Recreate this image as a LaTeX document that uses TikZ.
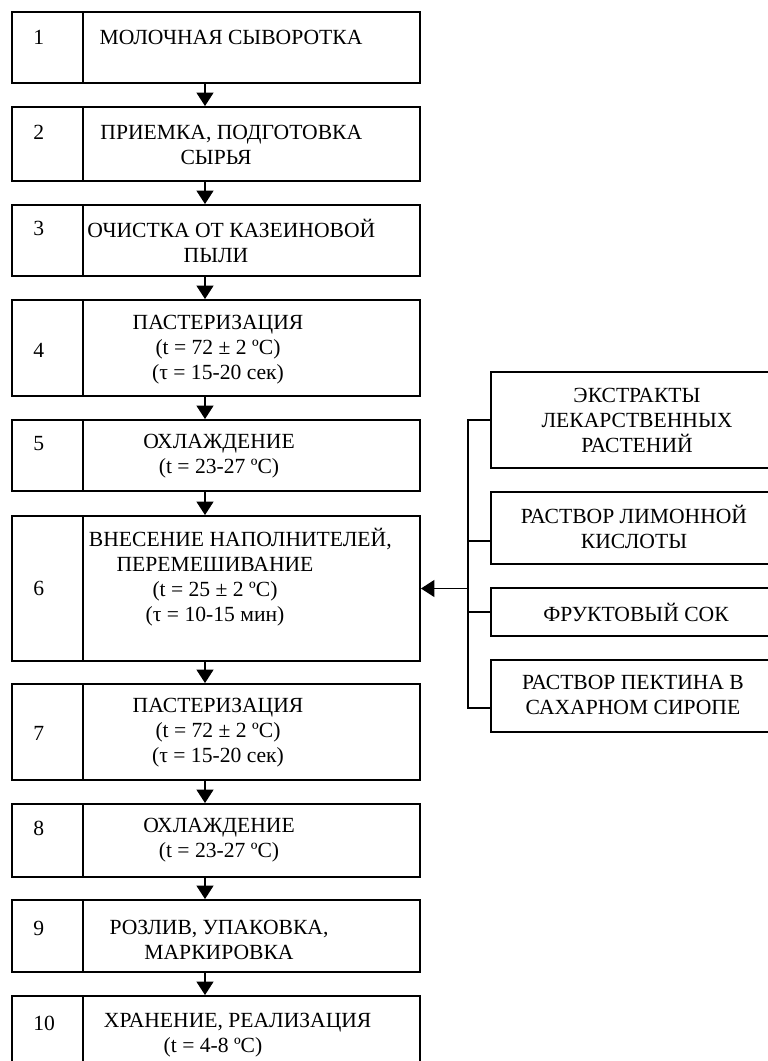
\documentclass[tikz,border=0pt]{standalone}
\usepackage{fontspec}
\setmainfont{Liberation Serif}
\usetikzlibrary{arrows.meta,fit}

\begin{document}
\begin{tikzpicture}[
  x=0.75pt, y=-0.75pt,
  every node/.style={font=\fontsize{16.2}{18.75}\selectfont},
  cell/.style={draw,line width=1.4pt,inner sep=0pt},
  txt/.style={align=center,inner sep=0pt},
  num/.style={anchor=west,inner sep=0pt},
  link/.style={line width=1.4pt},
  arr/.style={-{Triangle[length=10pt,width=12.5pt]},line width=1.4pt}
]
\path[use as bounding box,fill=white] (0,0) rectangle (768,1061);
\clip (0,0) rectangle (768,1061);

\foreach \i/\top/\bot in {1/12/83,2/107/181,3/205/276,4/300/396,5/420/491,
  6/516/661,7/684/780,8/804/877,9/900/972,10/996/1075}{
  \node[cell,fit={(12,\top)(420,\bot)}] (b\i) {};
  \node[cell,fit={(12,\top)(83,\bot)}] (n\i) {};
}
\foreach \i/\y in {1/37,2/132,3/228,4/350,5/444,6/588,7/733,8/828,9/928,10/1023}
  \node[num] (k\i) at (33,\y) {\i};

\node[txt] (t1) at (231,37) {МОЛОЧНАЯ СЫВОРОТКА};
\node[txt] (t2) at (216,145) {\hspace*{23pt}ПРИЕМКА, ПОДГОТОВКА\\СЫРЬЯ};
\node[txt] (t3) at (216,241) {\hspace*{23pt}ОЧИСТКА ОТ КАЗЕИНОВОЙ\\ПЫЛИ};
\node[txt] (t4) at (218,350) {ПАСТЕРИЗАЦИЯ\\(t = 72 ± 2 ºC)\\(τ = 15-20 сек)};
\node[txt] (t5) at (219,456) {ОХЛАЖДЕНИЕ\\(t = 23-27 ºC)};
\node[txt] (t6) at (215,577) {\hspace*{38pt}ВНЕСЕНИЕ НАПОЛНИТЕЛЕЙ,\\ПЕРЕМЕШИВАНИЕ\\(t = 25 ± 2 ºC)\\(τ = 10-15 мин)};
\node[txt] (t7) at (218,733) {ПАСТЕРИЗАЦИЯ\\(t = 72 ± 2 ºC)\\(τ = 15-20 сек)};
\node[txt] (t8) at (219,840) {ОХЛАЖДЕНИЕ\\(t = 23-27 ºC)};
\node[txt] (t9) at (219,940) {РОЗЛИВ, УПАКОВКА,\\МАРКИРОВКА};
\node[txt] (t10) at (213,1035) {\hspace*{37pt}ХРАНЕНИЕ, РЕАЛИЗАЦИЯ\\(t = 4-8 ºC)};

\node[cell,fit={(491,372)(780,468)}] (ext) {};
\node[cell,fit={(491,492)(780,564)}] (lem) {};
\node[cell,fit={(491,588)(780,636)}] (juice) {};
\node[cell,fit={(491,660)(780,732)}] (pect) {};
\node[txt] (t11) at (637,420) {ЭКСТРАКТЫ\\ЛЕКАРСТВЕННЫХ\\РАСТЕНИЙ};
\node[txt] (t12) at (634,527) {РАСТВОР ЛИМОННОЙ\\КИСЛОТЫ};
\node[txt] (t13) at (636,612) {ФРУКТОВЫЙ СОК};
\node[txt] (t14) at (633,695) {РАСТВОР ПЕКТИНА В\\САХАРНОМ СИРОПЕ};

\coordinate (ax) at (205,0);
\coordinate (bus) at (468,0);
\coordinate (lin) at ([yshift=-9.75pt]lem.west);
\coordinate (pin) at ([yshift=-9pt]pect.west);

\foreach \i [evaluate=\i as \j using int(\i+1)] in {1,...,9}
  \draw[arr] (b\i.south -| ax) -- (b\j.north -| ax);

\draw[link] (ext.west) -| (bus |- pin) -- (pin);
\draw[link] (bus |- lin) -- (lin);
\draw[link] (bus |- juice.west) -- (juice.west);
\draw[arr] (bus |- b6.east) -- (b6.east);
\end{tikzpicture}
\end{document}
